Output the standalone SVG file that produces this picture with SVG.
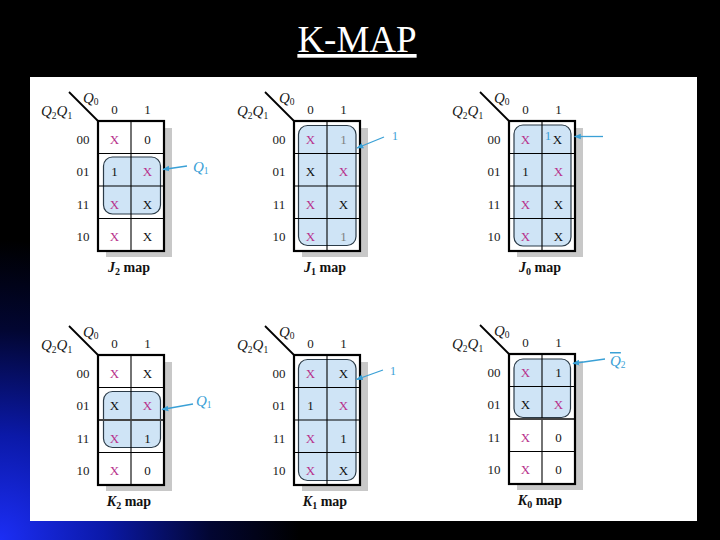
<svg xmlns="http://www.w3.org/2000/svg" width="720" height="540" viewBox="0 0 720 540">
<defs>
<radialGradient id="bgGrad" cx="0" cy="540" r="300" gradientUnits="userSpaceOnUse">
<stop offset="0" stop-color="#1c2ef5"/>
<stop offset="0.35" stop-color="#0b19a8"/>
<stop offset="0.7" stop-color="#020632"/>
<stop offset="1" stop-color="#000000"/>
</radialGradient>
<marker id="ah" viewBox="0 0 10 10" refX="9" refY="5" markerWidth="7" markerHeight="7" orient="auto" markerUnits="userSpaceOnUse">
<path d="M0,1 L10,5 L0,9 z" fill="#3aa0d6"/>
</marker>
<style>
text { font-family: "Liberation Serif", "Times New Roman", serif; }
.lab { font-size: 13px; fill: #1a1a1a; text-anchor: middle; }
.v { font-size: 13px; text-anchor: middle; }
.m { fill: #b8328c; }
.k { fill: #111; }
.g { fill: #808080; }
.cy { fill: #3aa0d6; }
.grp { fill: #cfe4f6; stroke: #2b3b48; stroke-width: 1.2; }
.sh { fill: #c8c8c8; }
.cell { fill: #ffffff; }
.outer { fill: none; stroke: #000; stroke-width: 2.2; }
.inner { stroke: #000; stroke-width: 1.1; }
.thick { stroke: #444; stroke-width: 1.8; }
.diag { stroke: #000; stroke-width: 1.8; }
.arr { stroke: #3aa0d6; stroke-width: 1.3; fill: none; marker-end: url(#ah); }
.q { font-style: italic; font-size: 15px; fill: #1a1a1a; }
.qc { font-style: italic; font-size: 15px; fill: #3aa0d6; }
.sub { font-style: normal; font-size: 9.5px; }
.ttl { font-size: 14px; font-weight: bold; fill: #111; text-anchor: middle; }
</style>
</defs>

<rect x="0" y="0" width="720" height="540" fill="#000"/>
<rect x="0" y="0" width="720" height="540" fill="url(#bgGrad)"/>
<rect x="30" y="77" width="667" height="444" fill="#ffffff"/>

<text x="357" y="52" font-size="37" fill="#ffffff" text-anchor="middle" text-decoration="underline">K-MAP</text>

<!-- J2 map -->
<g id="map-j2" transform="translate(98,121)">
<rect class="sh" x="8" y="7" width="66" height="129"/>
<rect class="cell" x="0" y="0" width="66" height="130"/>
<rect class="grp" x="5.5" y="36" width="57" height="57" rx="9"/>
<line class="inner" x1="33" y1="0" x2="33" y2="130"/>
<line class="inner" x1="0" y1="32.5" x2="66" y2="32.5"/>
<line class="inner" x1="0" y1="65" x2="66" y2="65"/>
<line class="inner" x1="0" y1="97.5" x2="66" y2="97.5"/>
<rect class="outer" x="0" y="0" width="66" height="130"/>
<line class="diag" x1="-29" y1="-29" x2="0" y2="0"/>
<text class="q" x="-15" y="-18">Q<tspan class="sub" dy="2">0</tspan></text>
<text class="q" x="-57" y="-5">Q<tspan class="sub" dy="3">2</tspan><tspan dy="-3">Q</tspan><tspan class="sub" dy="3">1</tspan></text>
<text class="lab" x="16.5" y="-7.5">0</text><text class="lab" x="49.5" y="-7.5">1</text>
<text class="lab" x="-15" y="22.5">00</text><text class="lab" x="-15" y="55">01</text><text class="lab" x="-15" y="87.5">11</text><text class="lab" x="-15" y="120">10</text>
<text class="v m" x="16.5" y="22.5">X</text><text class="v k" x="49.5" y="22.5">0</text>
<text class="v k" x="16.5" y="55">1</text><text class="v m" x="49.5" y="55">X</text>
<text class="v m" x="16.5" y="87.5">X</text><text class="v k" x="49.5" y="87.5">X</text>
<text class="v m" x="16.5" y="120">X</text><text class="v k" x="49.5" y="120">X</text>
<text class="ttl" x="31" y="151"><tspan font-style="italic">J</tspan><tspan font-size="10" dy="3">2</tspan><tspan dy="-3"> map</tspan></text>
</g>

<!-- J1 map -->
<g id="map-j1" transform="translate(294,121)">
<rect class="sh" x="8" y="7" width="66" height="129"/>
<rect class="cell" x="0" y="0" width="66" height="130"/>
<rect class="grp" x="4.5" y="4.5" width="57.5" height="120" rx="9"/>
<line class="inner" x1="33" y1="0" x2="33" y2="130"/>
<line class="inner" x1="0" y1="32.5" x2="66" y2="32.5"/>
<line class="inner" x1="0" y1="65" x2="66" y2="65"/>
<line class="inner" x1="0" y1="97.5" x2="66" y2="97.5"/>
<rect class="outer" x="0" y="0" width="66" height="130"/>
<line class="diag" x1="-29" y1="-29" x2="0" y2="0"/>
<text class="q" x="-15" y="-18">Q<tspan class="sub" dy="2">0</tspan></text>
<text class="q" x="-57" y="-5">Q<tspan class="sub" dy="3">2</tspan><tspan dy="-3">Q</tspan><tspan class="sub" dy="3">1</tspan></text>
<text class="lab" x="16.5" y="-7.5">0</text><text class="lab" x="49.5" y="-7.5">1</text>
<text class="lab" x="-15" y="22.5">00</text><text class="lab" x="-15" y="55">01</text><text class="lab" x="-15" y="87.5">11</text><text class="lab" x="-15" y="120">10</text>
<text class="v m" x="16.5" y="22.5">X</text><text class="v g" x="49.5" y="22.5">1</text>
<text class="v k" x="16.5" y="55">X</text><text class="v m" x="49.5" y="55">X</text>
<text class="v m" x="16.5" y="87.5">X</text><text class="v k" x="49.5" y="87.5">X</text>
<text class="v m" x="16.5" y="120">X</text><text class="v g" x="49.5" y="120">1</text>
<text class="ttl" x="31" y="151"><tspan font-style="italic">J</tspan><tspan font-size="10" dy="3">1</tspan><tspan dy="-3"> map</tspan></text>
</g>

<!-- J0 map -->
<g id="map-j0" transform="translate(509,121)">
<rect class="sh" x="8" y="7" width="66" height="129"/>
<rect class="cell" x="0" y="0" width="66" height="130"/>
<rect class="grp" x="5" y="4" width="57" height="121" rx="9"/>
<line class="inner" x1="33" y1="0" x2="33" y2="130"/>
<line class="inner" x1="0" y1="32.5" x2="66" y2="32.5"/>
<line class="inner" x1="0" y1="65" x2="66" y2="65"/>
<line class="inner" x1="0" y1="97.5" x2="66" y2="97.5"/>
<rect class="outer" x="0" y="0" width="66" height="130"/>
<line class="diag" x1="-29" y1="-29" x2="0" y2="0"/>
<text class="q" x="-15" y="-18">Q<tspan class="sub" dy="2">0</tspan></text>
<text class="q" x="-57" y="-5">Q<tspan class="sub" dy="3">2</tspan><tspan dy="-3">Q</tspan><tspan class="sub" dy="3">1</tspan></text>
<text class="lab" x="16.5" y="-7.5">0</text><text class="lab" x="49.5" y="-7.5">1</text>
<text class="lab" x="-15" y="22.5">00</text><text class="lab" x="-15" y="55">01</text><text class="lab" x="-15" y="87.5">11</text><text class="lab" x="-15" y="120">10</text>
<text class="v m" x="16.5" y="22.5">X</text><text class="v cy" x="39" y="18.5" font-size="12">1</text><text class="v k" x="48.5" y="22.5">X</text>
<text class="v k" x="16.5" y="55">1</text><text class="v m" x="49.5" y="55">X</text>
<text class="v m" x="16.5" y="87.5">X</text><text class="v k" x="49.5" y="87.5">X</text>
<text class="v m" x="16.5" y="120">X</text><text class="v k" x="49.5" y="120">X</text>
<text class="ttl" x="31" y="151"><tspan font-style="italic">J</tspan><tspan font-size="10" dy="3">0</tspan><tspan dy="-3"> map</tspan></text>
</g>

<!-- K2 map -->
<g id="map-k2" transform="translate(98,355)">
<rect class="sh" x="8" y="7" width="66" height="129"/>
<rect class="cell" x="0" y="0" width="66" height="130"/>
<rect class="grp" x="5.5" y="36.5" width="57" height="56" rx="9"/>
<line class="inner" x1="33" y1="0" x2="33" y2="130"/>
<line class="inner" x1="0" y1="32.5" x2="66" y2="32.5"/>
<line class="thick" x1="0" y1="65" x2="66" y2="65"/>
<line class="inner" x1="0" y1="97.5" x2="66" y2="97.5"/>
<rect class="outer" x="0" y="0" width="66" height="130"/>
<line class="diag" x1="-29" y1="-29" x2="0" y2="0"/>
<text class="q" x="-15" y="-18">Q<tspan class="sub" dy="2">0</tspan></text>
<text class="q" x="-57" y="-5">Q<tspan class="sub" dy="3">2</tspan><tspan dy="-3">Q</tspan><tspan class="sub" dy="3">1</tspan></text>
<text class="lab" x="16.5" y="-7.5">0</text><text class="lab" x="49.5" y="-7.5">1</text>
<text class="lab" x="-15" y="22.5">00</text><text class="lab" x="-15" y="55">01</text><text class="lab" x="-15" y="87.5">11</text><text class="lab" x="-15" y="120">10</text>
<text class="v m" x="16.5" y="22.5">X</text><text class="v k" x="49.5" y="22.5">X</text>
<text class="v k" x="16.5" y="55">X</text><text class="v m" x="49.5" y="55">X</text>
<text class="v m" x="16.5" y="87.5">X</text><text class="v k" x="49.5" y="87.5">1</text>
<text class="v m" x="16.5" y="120">X</text><text class="v k" x="49.5" y="120">0</text>
<text class="ttl" x="31" y="151"><tspan font-style="italic">K</tspan><tspan font-size="10" dy="3">2</tspan><tspan dy="-3"> map</tspan></text>
</g>

<!-- K1 map -->
<g id="map-k1" transform="translate(294,355)">
<rect class="sh" x="8" y="7" width="66" height="129"/>
<rect class="cell" x="0" y="0" width="66" height="130"/>
<rect class="grp" x="4.5" y="4.5" width="57.5" height="121" rx="9"/>
<line class="inner" x1="33" y1="0" x2="33" y2="130"/>
<line class="inner" x1="0" y1="32.5" x2="66" y2="32.5"/>
<line class="inner" x1="0" y1="65" x2="66" y2="65"/>
<line class="inner" x1="0" y1="97.5" x2="66" y2="97.5"/>
<rect class="outer" x="0" y="0" width="66" height="130"/>
<line class="diag" x1="-29" y1="-29" x2="0" y2="0"/>
<text class="q" x="-15" y="-18">Q<tspan class="sub" dy="2">0</tspan></text>
<text class="q" x="-57" y="-5">Q<tspan class="sub" dy="3">2</tspan><tspan dy="-3">Q</tspan><tspan class="sub" dy="3">1</tspan></text>
<text class="lab" x="16.5" y="-7.5">0</text><text class="lab" x="49.5" y="-7.5">1</text>
<text class="lab" x="-15" y="22.5">00</text><text class="lab" x="-15" y="55">01</text><text class="lab" x="-15" y="87.5">11</text><text class="lab" x="-15" y="120">10</text>
<text class="v m" x="16.5" y="22.5">X</text><text class="v k" x="49.5" y="22.5">X</text>
<text class="v k" x="16.5" y="55">1</text><text class="v m" x="49.5" y="55">X</text>
<text class="v m" x="16.5" y="87.5">X</text><text class="v k" x="49.5" y="87.5">1</text>
<text class="v m" x="16.5" y="120">X</text><text class="v k" x="49.5" y="120">X</text>
<text class="ttl" x="31" y="151"><tspan font-style="italic">K</tspan><tspan font-size="10" dy="3">1</tspan><tspan dy="-3"> map</tspan></text>
</g>

<!-- K0 map -->
<g id="map-k0" transform="translate(509,354)">
<rect class="sh" x="8" y="7" width="66" height="129"/>
<rect class="cell" x="0" y="0" width="66" height="130"/>
<rect class="grp" x="5" y="5" width="56.5" height="58.5" rx="9"/>
<line class="inner" x1="33" y1="0" x2="33" y2="130"/>
<line class="inner" x1="0" y1="32.5" x2="66" y2="32.5"/>
<line class="thick" x1="0" y1="65" x2="66" y2="65"/>
<line class="inner" x1="0" y1="97.5" x2="66" y2="97.5"/>
<rect class="outer" x="0" y="0" width="66" height="130"/>
<line class="diag" x1="-29" y1="-29" x2="0" y2="0"/>
<text class="q" x="-15" y="-18">Q<tspan class="sub" dy="2">0</tspan></text>
<text class="q" x="-57" y="-5">Q<tspan class="sub" dy="3">2</tspan><tspan dy="-3">Q</tspan><tspan class="sub" dy="3">1</tspan></text>
<text class="lab" x="16.5" y="-7.5">0</text><text class="lab" x="49.5" y="-7.5">1</text>
<text class="lab" x="-15" y="22.5">00</text><text class="lab" x="-15" y="55">01</text><text class="lab" x="-15" y="87.5">11</text><text class="lab" x="-15" y="120">10</text>
<text class="v m" x="16.5" y="22.5">X</text><text class="v k" x="49.5" y="22.5">1</text>
<text class="v k" x="16.5" y="55">X</text><text class="v m" x="49.5" y="55">X</text>
<text class="v m" x="16.5" y="87.5">X</text><text class="v k" x="49.5" y="87.5">0</text>
<text class="v m" x="16.5" y="120">X</text><text class="v k" x="49.5" y="120">0</text>
<text class="ttl" x="31" y="151"><tspan font-style="italic">K</tspan><tspan font-size="10" dy="3">0</tspan><tspan dy="-3"> map</tspan></text>
</g>

<!-- connectors (annotation arrows) -->
<g id="connectors">
<line class="arr" x1="187" y1="166" x2="163" y2="169.5"/>
<line class="arr" x1="384" y1="137" x2="357" y2="148"/>
<line class="arr" x1="603" y1="136.5" x2="574.5" y2="136.5"/>
<line class="arr" x1="193" y1="404" x2="162" y2="409.5"/>
<line class="arr" x1="383" y1="370" x2="356.5" y2="379.5"/>
<line class="arr" x1="605" y1="359" x2="573" y2="363.5"/>
</g>

<g id="annotations">
<text class="qc" x="193" y="172">Q<tspan class="sub" dy="2">1</tspan></text>
<text class="cy" x="395" y="140" font-size="12" text-anchor="middle">1</text>
<text class="qc" x="196" y="406">Q<tspan class="sub" dy="2">1</tspan></text>
<text class="cy" x="393" y="375" font-size="12" text-anchor="middle">1</text>
<text class="qc" x="610" y="366"><tspan text-decoration="overline">Q</tspan><tspan class="sub" dy="2">2</tspan></text>
</g>
</svg>
